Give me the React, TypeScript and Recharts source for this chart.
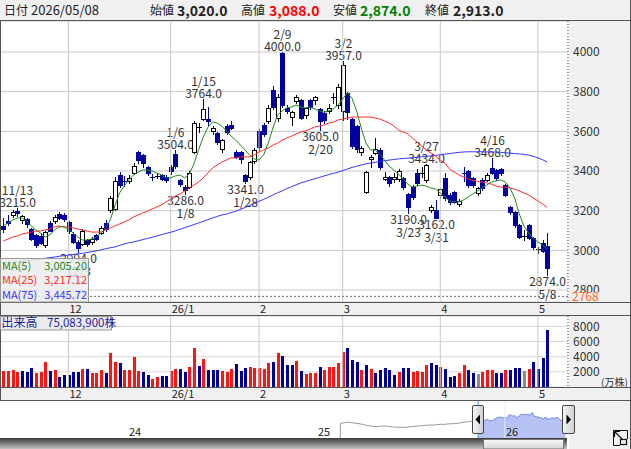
import React from 'react'
import { ComposedChart, Bar, Line, Area, XAxis, YAxis, CartesianGrid, ReferenceLine } from 'recharts'

const FONT = '"Noto Sans CJK JP", "Noto Sans", sans-serif'
const BLUE = '#00009c'
const RED = '#ff1414'
const GRID = '#c8c8c8'
const PANEL = '#f0f0f0'

// daily candles, 2025/11/10 .. 2026/05/08
const dates = [
  '11/10', '11/11', '11/12', '11/13', '11/14', '11/17', '11/18', '11/19', '11/20', '11/21',
  '11/25', '11/26', '11/27', '11/28', '12/1', '12/2', '12/3', '12/4', '12/5', '12/8',
  '12/9', '12/10', '12/11', '12/12', '12/15', '12/16', '12/17', '12/18', '12/19', '12/22',
  '12/23', '12/24', '12/25', '12/26', '12/29', '12/30', '1/5', '1/6', '1/7', '1/8',
  '1/9', '1/13', '1/14', '1/15', '1/16', '1/19', '1/20', '1/21', '1/22', '1/23',
  '1/26', '1/27', '1/28', '1/29', '1/30', '2/2', '2/3', '2/4', '2/5', '2/6',
  '2/9', '2/10', '2/12', '2/13', '2/16', '2/17', '2/18', '2/19', '2/20', '2/24',
  '2/25', '2/26', '2/27', '3/2', '3/3', '3/4', '3/5', '3/6', '3/9', '3/10',
  '3/11', '3/12', '3/13', '3/16', '3/17', '3/18', '3/19', '3/23', '3/24', '3/25',
  '3/26', '3/27', '3/30', '3/31', '4/1', '4/2', '4/3', '4/6', '4/7', '4/8',
  '4/9', '4/10', '4/13', '4/14', '4/15', '4/16', '4/17', '4/20', '4/21', '4/22',
  '4/23', '4/24', '4/27', '4/28', '4/30', '5/1', '5/7', '5/8',
]

const opens = [
  3125, 3150, 3180, 3198, 3152, 3158, 3108, 3078, 3072, 3025,
  3140, 3150, 3185, 3180, 3145, 3080, 3040, 3030, 3050, 3040,
  3075, 3088, 3140, 3205, 3210, 3380, 3352, 3350, 3392, 3495,
  3480, 3420, 3372, 3375, 3378, 3370, 3420, 3486, 3355, 3320,
  3320, 3496, 3620, 3662, 3660, 3600, 3590, 3510, 3625, 3632,
  3498, 3495, 3380, 3372, 3450, 3600, 3630, 3650, 3810, 3665,
  3995, 3720, 3672, 3755, 3760, 3683, 3758, 3760, 3715, 3690,
  3700, 3775, 3735, 3700, 3795, 3660, 3625, 3495, 3295, 3460,
  3490, 3505, 3360, 3370, 3360, 3362, 3365, 3282, 3318, 3390,
  3386, 3355, 3205, 3203, 3280, 3365, 3280, 3295, 3235, 3392,
  3400, 3365, 3290, 3355, 3355, 3415, 3405, 3410, 3330, 3220,
  3193, 3128, 3068, 3128, 3062, 3005, 3038, 3020,
]
const highs = [
  3165, 3178, 3205, 3215, 3180, 3162, 3112, 3082, 3088, 3100,
  3150, 3178, 3195, 3188, 3150, 3090, 3050, 3108, 3058, 3065,
  3080, 3125, 3155, 3272, 3370, 3395, 3375, 3380, 3440, 3500,
  3485, 3425, 3385, 3390, 3385, 3380, 3430, 3504, 3362, 3328,
  3400, 3650, 3640, 3764, 3725, 3625, 3595, 3560, 3635, 3652,
  3505, 3500, 3385, 3450, 3515, 3612, 3640, 3735, 3830, 3790,
  4000, 3735, 3705, 3785, 3765, 3720, 3765, 3780, 3720, 3700,
  3740, 3795, 3840, 3957, 3800, 3665, 3630, 3525, 3400, 3480,
  3565, 3515, 3395, 3375, 3390, 3410, 3370, 3290, 3330, 3410,
  3420, 3434, 3230, 3255, 3315, 3390, 3290, 3300, 3258, 3420,
  3405, 3372, 3320, 3365, 3388, 3468, 3410, 3415, 3335, 3225,
  3198, 3135, 3105, 3133, 3068, 3018, 3052, 3088,
]
const lows = [
  3090, 3128, 3170, 3172, 3140, 3118, 3050, 3018, 3030, 3015,
  3095, 3140, 3160, 3150, 3088, 3035, 2994, 3025, 3020, 3030,
  3050, 3080, 3100, 3195, 3205, 3320, 3325, 3340, 3385, 3440,
  3420, 3380, 3355, 3365, 3355, 3345, 3385, 3415, 3325, 3286,
  3315, 3490, 3595, 3655, 3632, 3585, 3535, 3495, 3585, 3610,
  3465, 3440, 3341, 3360, 3440, 3505, 3575, 3640, 3715, 3650,
  3725, 3690, 3630, 3745, 3660, 3665, 3715, 3740, 3605, 3640,
  3690, 3745, 3720, 3657, 3660, 3515, 3495, 3480, 3290, 3420,
  3485, 3410, 3355, 3325, 3345, 3350, 3310, 3190, 3260, 3330,
  3370, 3345, 3195, 3162, 3265, 3255, 3235, 3240, 3222, 3350,
  3320, 3320, 3280, 3305, 3350, 3385, 3355, 3380, 3275, 3185,
  3120, 3060, 3050, 3055, 3005, 2985, 2990, 2874,
]
const closes = [
  3110, 3140, 3195, 3190, 3172, 3135, 3058, 3028, 3038, 3092,
  3100, 3168, 3165, 3160, 3095, 3040, 3010, 3100, 3030, 3058,
  3058, 3115, 3110, 3262, 3352, 3330, 3350, 3365, 3425, 3455,
  3440, 3390, 3368, 3376, 3362, 3355, 3398, 3425, 3335, 3304,
  3390, 3642, 3624, 3713, 3652, 3617, 3545, 3555, 3595, 3618,
  3472, 3460, 3350, 3445, 3505, 3520, 3585, 3720, 3725, 3775,
  3735, 3700, 3698, 3772, 3668, 3716, 3722, 3772, 3650, 3655,
  3720, 3768, 3825, 3935, 3695, 3525, 3510, 3515, 3395, 3470,
  3510, 3420, 3372, 3340, 3372, 3400, 3320, 3220, 3270, 3340,
  3388, 3430, 3218, 3165, 3308, 3265, 3245, 3245, 3250, 3388,
  3330, 3330, 3315, 3315, 3380, 3390, 3365, 3390, 3280, 3195,
  3128, 3067, 3070, 3062, 3017, 3007, 2998, 2913,
]

const ma5 = [
  3123, 3138, 3153, 3163, 3163, 3148, 3123, 3103, 3087, 3067,
  3077, 3103, 3118, 3118, 3108, 3087, 3067, 3052, 3052, 3057,
  3067, 3087, 3113, 3153, 3224, 3289, 3324, 3355, 3380, 3395,
  3405, 3405, 3400, 3390, 3380, 3365, 3365, 3375, 3380, 3365,
  3385, 3435, 3506, 3571, 3620, 3647, 3642, 3627, 3602, 3576,
  3556, 3531, 3506, 3481, 3461, 3455, 3481, 3541, 3617, 3682,
  3703, 3718, 3723, 3733, 3723, 3718, 3723, 3713, 3703, 3697,
  3703, 3713, 3733, 3763, 3793, 3768, 3703, 3617, 3541, 3506,
  3506, 3486, 3455, 3425, 3405, 3385, 3360, 3334, 3319, 3324,
  3329, 3324, 3314, 3309, 3289, 3269, 3249, 3244, 3244, 3254,
  3269, 3284, 3299, 3314, 3329, 3345, 3350, 3355, 3345, 3314,
  3264, 3183, 3123, 3087, 3062, 3042, 3027, 3005.2,
]
const ma25 = [
  3047, 3057, 3067, 3072, 3082, 3087, 3092, 3097, 3097, 3103,
  3108, 3118, 3123, 3118, 3118, 3113, 3108, 3103, 3097, 3092,
  3092, 3092, 3103, 3113, 3123, 3133, 3143, 3153, 3168, 3178,
  3188, 3198, 3208, 3218, 3229, 3244, 3259, 3274, 3284, 3299,
  3314, 3329, 3345, 3365, 3390, 3415, 3430, 3445, 3455, 3466,
  3466, 3471, 3471, 3471, 3481, 3496, 3506, 3516, 3531, 3541,
  3556, 3566, 3576, 3587, 3597, 3602, 3612, 3622, 3627, 3632,
  3642, 3647, 3657, 3662, 3667, 3672, 3672, 3672, 3672, 3672,
  3667, 3662, 3652, 3642, 3627, 3607, 3597, 3587, 3566, 3546,
  3526, 3506, 3491, 3476, 3455, 3440, 3410, 3395, 3380, 3370,
  3360, 3352, 3348, 3344, 3340, 3334, 3324, 3319, 3319, 3314,
  3309, 3299, 3289, 3279, 3264, 3249, 3234, 3217.12,
]
const ma75 = [
  2935, 2938, 2940, 2942, 2945, 2948, 2951, 2954, 2957, 2960,
  2963, 2966, 2970, 2973, 2976, 2979, 2982, 2985, 2989, 2993,
  2997, 3002, 3008, 3013, 3017, 3025, 3032, 3038, 3042, 3048,
  3054, 3060, 3066, 3072, 3079, 3085, 3091, 3098, 3106, 3114,
  3122, 3130, 3138, 3146, 3155, 3163, 3171, 3178, 3183, 3190,
  3197, 3206, 3216, 3226, 3236, 3247, 3257, 3268, 3279, 3290,
  3300, 3311, 3321, 3330, 3340, 3347, 3354, 3361, 3368, 3375,
  3382, 3388, 3394, 3402, 3410, 3418, 3424, 3430, 3436, 3440,
  3444, 3448, 3452, 3455, 3458, 3461, 3463, 3465, 3467, 3469,
  3472, 3474, 3476, 3479, 3482, 3485, 3488, 3491, 3494, 3496,
  3497, 3497, 3497, 3497, 3496, 3496, 3495, 3494, 3492, 3490,
  3488, 3486, 3484, 3480, 3474, 3466, 3457, 3445.72,
]

// 出来高 (万株) and its colour: r = up, b = down, g = unchanged
const volumes = [
  2146, 2056, 2280, 1922, 2056, 1922, 2459, 1788, 2012, 3353,
  2056, 2235, 1341, 1609, 1609, 2012, 1922, 2414, 2414, 1833,
  1788, 2280, 1788, 4470, 3353, 3129, 2280, 2235, 3934, 2056,
  2012, 1609, 1118, 1341, 1475, 1475, 2146, 2414, 2414, 2012,
  2682, 5096, 2816, 3755, 2280, 2235, 2280, 2056, 2012, 2414,
  3084, 2056, 2503, 2682, 2548, 2548, 2324, 3174, 3353, 4470,
  4157, 2950, 2950, 3487, 2146, 1654, 1788, 1877, 2682, 2280,
  2682, 2682, 3129, 4559, 5096, 3621, 3353, 2280, 2950, 2414,
  1788, 2190, 2548, 2190, 1520, 1922, 2548, 2548, 1922, 2146,
  1922, 2950, 3218, 2950, 2682, 2414, 1386, 1475, 1877, 2950,
  2280, 1877, 1743, 1922, 2280, 2280, 1788, 1788, 2280, 2280,
  2548, 2548, 2146, 2414, 3353, 2414, 3889, 7508.39,
]
const volDir =
  'rrrrbbbrrr' + 'brbbbbbrbr' + 'rrbrrbrrrr' + 'bbrrbbrrbb' + 'rrbrbbbrrr' + 'bbbrrrrrbr' +
  'bbbrbrrrbr' + 'rrrrbbbrbr' + 'bbbbbrbbrr' + 'rrbbrbbbrr' + 'bbgrrrbbrb' + 'bbgrbbbb'

const monthStarts = ['12/1', '1/5', '2/2', '3/2', '4/1', '5/1']
const monthLabels = ['12', '26/1', '2', '3', '4', '5']
const highMarks = ['11/13', '1/6', '1/15', '2/9', '3/2', '3/27', '4/16']
const lowMarks = ['12/3', '1/8', '1/28', '2/20', '3/23', '3/31', '5/8']
const priceTicks = [2800, 3000, 3200, 3400, 3600, 3800, 4000]
const volTicks = [2000, 4000, 6000, 8000]
const limitPrice = 2768
const lastDay = '2026/05/08'

// weekly closes shown in the navigator before the selected range
const navHistory = [
  2740, 2800, 2860, 2820, 2750, 2700, 2620, 2520, 2450, 2400,
  2370, 2420, 2460, 2400, 2340, 2320, 2300, 2290, 2320, 2370,
  2400, 2450, 2480, 2520, 2560, 2540, 2600, 2640, 2620, 2680,
  2700, 2720, 2780, 2850, 2900, 2960, 3050, 3110,
]
const navYears = ['24', '25', '26']

// price panel geometry (svg top 21, plot height 281)
const PMIN = 2739.5
const PMAX = 4156.3
const priceY = (v: number) => 21 + ((PMAX - v) / (PMAX - PMIN)) * 281

const rows = dates.map((date, i) => ({
  date,
  open: opens[i],
  high: highs[i],
  low: lows[i],
  close: closes[i],
  ma5: ma5[i],
  ma25: ma25[i],
  ma75: ma75[i],
  vol: volumes[i],
  dir: volDir[i],
  mark: highMarks.includes(date) ? 'high' : lowMarks.includes(date) ? 'low' : null,
}))

const navRows = [
  ...navHistory.map((v, i) => ({ d: -185 + 5 * i, hist: v })),
  ...closes.map((v, i) => ({ d: i, sel: v })),
]

const fmt = (v: number, d: number) =>
  v.toLocaleString('en-US', { minimumFractionDigits: d, maximumFractionDigits: d })

function Candle(props: any) {
  const { x, y, width, height, payload } = props
  if (!payload || x == null) return <g />
  const { open, close, high, low, mark, date } = payload
  const c = Math.round(x + width / 2)
  const h = Math.abs(height)
  const k = high > low ? h / (high - low) : 0
  const py = (v: number) => Math.round(y + (high - v) * k)
  const yH = py(high)
  const yL = py(low)
  const top = py(Math.max(open, close))
  const bot = py(Math.min(open, close))
  const up = close >= open
  const col = up ? '#000' : BLUE
  let body
  if (bot - top < 2) {
    body = <line x1={c - 2} x2={c + 3} y1={top + 0.5} y2={top + 0.5} stroke={col} />
  } else if (up) {
    body = <rect x={c - 1.5} y={top + 0.5} width={4} height={bot - top} fill="#fff" stroke="#000" />
  } else {
    body = <rect x={c - 2} y={top} width={5} height={bot - top + 1} fill={BLUE} />
  }
  return (
    <g>
      <line x1={c + 0.5} x2={c + 0.5} y1={yH} y2={yL + 1} stroke={col} />
      {body}
      {mark === 'high' && (
        <g fontSize={12} fill="#333" fontFamily={FONT} textAnchor="middle">
          <text x={c + 0.5} y={yH - 13}>{date}</text>
          <text x={c + 0.5} y={yH - 1.5}>{high.toFixed(1)}</text>
        </g>
      )}
      {mark === 'low' && (
        <g fontSize={12} fill="#333" fontFamily={FONT} textAnchor="middle">
          <text x={c + 0.5} y={yL + 11}>{low.toFixed(1)}</text>
          <text x={c + 0.5} y={yL + 23.5}>{date}</text>
        </g>
      )}
    </g>
  )
}

function VolBar(props: any) {
  const { x, y, width, height, payload } = props
  if (!payload || x == null) return <g />
  const c = Math.round(x + width / 2)
  const yt = Math.round(y)
  const yb = Math.round(y + height)
  const col = payload.dir === 'r' ? RED : payload.dir === 'g' ? '#8c8c8c' : BLUE
  return <rect x={c - 1} y={yt} width={3} height={Math.max(yb - yt, 0)} fill={col} />
}

function MonthTick(props: any) {
  const { x, y, payload } = props
  const i = monthStarts.indexOf(payload.value)
  return (
    <text x={x + 1} y={y + 10.5} fontSize={11} fill="#222" fontFamily={FONT}>
      {monthLabels[i]}
    </text>
  )
}

const yTick = { fontSize: 12, fill: '#333', fontFamily: FONT }
const dotted = { stroke: '#333', strokeDasharray: '1 2' }

export default function App() {
  const n = rows.length - 1
  const limY = priceY(limitPrice)
  return (
    <div style={{ position: 'relative', width: 631, height: 449, background: '#fff', fontFamily: FONT, overflow: 'hidden' }}>
      <style>{'body{margin:0}'}</style>

      {/* background panels */}
      <svg width={631} height={449} style={{ position: 'absolute', left: 0, top: 0 }}>
        <rect x={0} y={0} width={631} height={21} fill={PANEL} />
        <rect x={569} y={21} width={62} height={428} fill={PANEL} />
        <rect x={0} y={302} width={631} height={13} fill={PANEL} />
        <rect x={0} y={387} width={631} height={13} fill={PANEL} />
      </svg>

      <div style={{ position: 'absolute', left: 0, top: 21 }}>
        <ComposedChart width={631} height={294} data={rows} margin={{ top: 0, right: 0, bottom: 0, left: 0 }}>
          <CartesianGrid vertical={false} stroke={GRID} />
          <XAxis dataKey="date" ticks={monthStarts} interval={0} tick={MonthTick} tickLine={false} axisLine={false}
            tickSize={0} tickMargin={0} height={13} padding={{ left: 1, right: 18.5 }} />
          <YAxis orientation="right" width={63} domain={[PMIN, PMAX]} ticks={priceTicks} interval={0} allowDataOverflow
            tickLine={false} tickSize={5} tickMargin={0} axisLine={dotted} tick={yTick} />
          {monthStarts.map((d) => <ReferenceLine key={d} x={d} stroke={GRID} />)}
          <ReferenceLine y={limitPrice} stroke="#666" strokeDasharray="2 2" />
          <Bar dataKey={(d: any) => [d.low, d.high]} shape={Candle} isAnimationActive={false} />
          <Line dataKey="ma75" stroke="#3535ff" strokeWidth={1} dot={false} isAnimationActive={false} />
          <Line dataKey="ma25" stroke="#ff2a2a" strokeWidth={1} dot={false} isAnimationActive={false} />
          <Line dataKey="ma5" stroke="#1e8a1e" strokeWidth={1} dot={false} isAnimationActive={false} />
        </ComposedChart>
      </div>

      <div style={{ position: 'absolute', left: 0, top: 315 }}>
        <ComposedChart width={631} height={85} data={rows} margin={{ top: 1, right: 0, bottom: 0, left: 0 }}>
          <CartesianGrid vertical={false} stroke="#d8d8d8" />
          <XAxis dataKey="date" ticks={monthStarts} interval={0} tick={MonthTick} tickLine={false} axisLine={false}
            tickSize={0} tickMargin={0} height={13} padding={{ left: 1, right: 18.5 }} />
          <YAxis orientation="right" width={63} domain={[0, 9373]} ticks={volTicks} interval={0} allowDataOverflow
            tickLine={false} tickSize={5} tickMargin={0} axisLine={dotted} tick={yTick} />
          {monthStarts.map((d) => <ReferenceLine key={d} x={d} stroke={GRID} />)}
          <Bar dataKey="vol" shape={VolBar} isAnimationActive={false} />
        </ComposedChart>
      </div>

      <div style={{ position: 'absolute', left: 0, top: 401 }}>
        <ComposedChart width={569} height={37} data={navRows} margin={{ top: 0, right: 0, bottom: 0, left: 0 }}>
          <XAxis type="number" dataKey="d" domain={[-642, 122]} hide allowDataOverflow />
          <YAxis hide domain={[1111, 5222]} allowDataOverflow />
          <ReferenceLine segment={[{ x: -185, y: 1111 }, { x: -185, y: navHistory[0] }]} stroke="#9a9a9a" />
          <Line dataKey="hist" stroke="#9a9a9a" strokeWidth={1} dot={false} isAnimationActive={false} />
          <Area dataKey="sel" stroke="#6f7fe0" strokeWidth={1} fill="#b6c1f4" fillOpacity={1} dot={false} isAnimationActive={false} />
          <ReferenceLine x={36} stroke="#e8ecff" />
          <ReferenceLine x={0} stroke="#3aa0e0" />
        </ComposedChart>
      </div>

      {/* overlay: borders, header, legends, navigator furniture */}
      <svg width={631} height={449} style={{ position: 'absolute', left: 0, top: 0, pointerEvents: 'none' }} fontFamily={FONT}>
        <defs>
          <linearGradient id="scroll" x1="0" y1="0" x2="0" y2="1">
            <stop offset="0" stopColor="#3a3a3a" />
            <stop offset="1" stopColor="#c4c4c4" />
          </linearGradient>
          <linearGradient id="thumb" x1="0" y1="0" x2="0" y2="1">
            <stop offset="0" stopColor="#fafafa" />
            <stop offset="1" stopColor="#d4d4d4" />
          </linearGradient>
          <linearGradient id="handle" x1="0" y1="0" x2="1" y2="0">
            <stop offset="0" stopColor="#f6f6f6" />
            <stop offset="1" stopColor="#cfcfcf" />
          </linearGradient>
        </defs>

        {/* stop-price tag on the price axis, over the lower half of the 2800 tick */}
        <rect x={570} y={limY - 4} width={60} height={9.5} fill={PANEL} />
        <text x={572} y={limY + 4.5} fontSize={12} fill="#ff6628">{limitPrice}</text>

        <line x1={0} x2={631} y1={20.5} y2={20.5} stroke="#555" />
        <line x1={0} x2={631} y1={302.5} y2={302.5} stroke="#555" />
        <line x1={0} x2={631} y1={315.5} y2={315.5} stroke="#555" />
        <line x1={0} x2={631} y1={387.5} y2={387.5} stroke="#555" />
        <line x1={0} x2={631} y1={400.5} y2={400.5} stroke="#555" />
        <line x1={0.5} x2={0.5} y1={20} y2={400} stroke="#555" />
        <line x1={630.5} x2={630.5} y1={0} y2={449} stroke="#555" />

        <g fontSize={12} fill="#222">
          <text x={4} y={15}>日付</text>
          <text x={31} y={15} fontSize={13}>{lastDay}</text>
          <text x={150} y={15}>始値</text>
          <text x={241} y={15}>高値</text>
          <text x={333} y={15}>安値</text>
          <text x={425} y={15}>終値</text>
        </g>
        <g fontSize={14} fontWeight="bold">
          <text x={177} y={15.5} fill="#222">{fmt(opens[n], 1)}</text>
          <text x={269} y={15.5} fill="#ff0000">{fmt(highs[n], 1)}</text>
          <text x={360} y={15.5} fill="#008000">{fmt(lows[n], 1)}</text>
          <text x={453} y={15.5} fill="#222">{fmt(closes[n], 1)}</text>
        </g>

        <rect x={0.5} y={258.5} width={88} height={43.5} fill="#ececec" fillOpacity={0.85} stroke="#999" />
        <g fontSize={11}>
          <text x={2} y={269.5} fill="#1e8a1e">MA(5)</text>
          <text x={87} y={269.5} fill="#1e8a1e" textAnchor="end">{fmt(ma5[n], 2)}</text>
          <text x={2} y={284} fill="#ff2a2a">MA(25)</text>
          <text x={87} y={284} fill="#ff2a2a" textAnchor="end">{fmt(ma25[n], 2)}</text>
          <text x={2} y={298.5} fill="#3535ff">MA(75)</text>
          <text x={87} y={298.5} fill="#3535ff" textAnchor="end">{fmt(ma75[n], 2)}</text>
        </g>

        <rect x={0.5} y={316.5} width={111} height={13.5} fill="#ececec" stroke="#999" />
        <text x={1.5} y={327} fontSize={12} fill="#1c1c9c">出来高</text>
        <text x={47} y={327} fontSize={11.5} fill="#1c1c9c">{Math.round(volumes[n] * 10000).toLocaleString('en-US')}株</text>
        <text x={601} y={386} fontSize={10} fill="#333">(万株)</text>

        <g fontSize={11} fill="#222">
          <text x={129} y={436}>{navYears[0]}</text>
          <text x={318} y={436}>{navYears[1]}</text>
          <text x={506} y={436}>{navYears[2]}</text>
        </g>

        <rect x={472.5} y={405.5} width={11} height={28} rx={1.5} fill="url(#handle)" stroke="#444" />
        <path d="M480,414.5 L475.5,419.5 L480,424.5 Z" fill="#000" />
        <rect x={562.5} y={405.5} width={12} height={28} rx={1.5} fill="url(#handle)" stroke="#444" />
        <path d="M566.5,414.5 L571,419.5 L566.5,424.5 Z" fill="#000" />

        <rect x={0} y={438} width={567} height={11} fill="url(#scroll)" />
        <rect x={483.5} y={439.5} width={80} height={9.5} fill="url(#thumb)" stroke="#777" />

        <g stroke="#111" fill="none" strokeWidth={1.2}>
          <path d="M614.5,431.5 L614.5,437 M614.5,431.5 L620,431.5 M614.5,431.5 L622,439" />
          <rect x={620.5} y={439.5} width={6} height={5} />
          <path d="M613.5,430.5 L613.5,445.5 L620,445.5 M613.5,430.5 L627.5,430.5 L627.5,439" strokeWidth={1} />
        </g>
      </svg>
    </div>
  )
}
